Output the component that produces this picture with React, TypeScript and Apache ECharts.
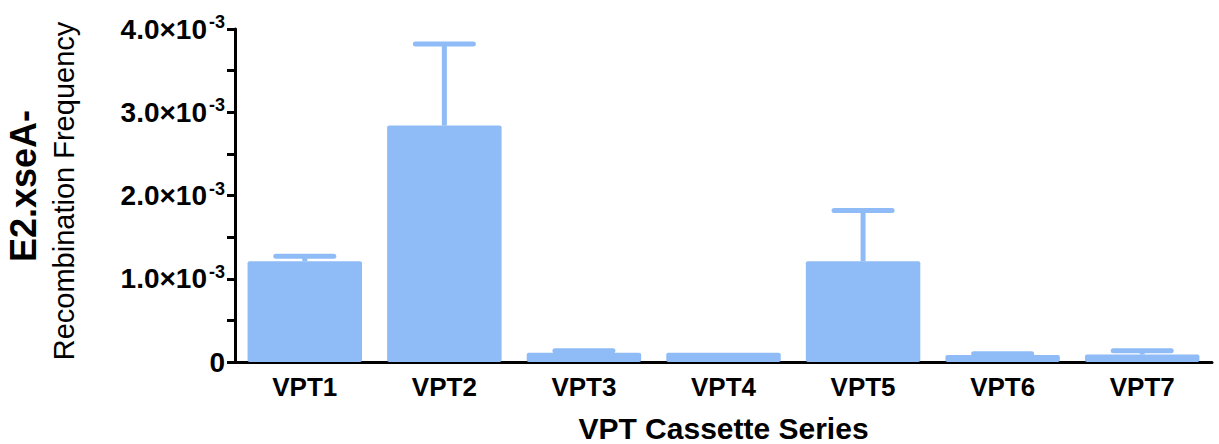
import React, { useEffect, useRef } from "react";
import * as echarts from "echarts";

const categories = ["VPT1", "VPT2", "VPT3", "VPT4", "VPT5", "VPT6", "VPT7"];
const means = [0.00121, 0.00284, 0.00011, 0.00011, 0.00121, 0.000085, 0.00009];
const upperErrors = [0.00127, 0.00382, 0.000135, 0.00011, 0.00182, 0.0001, 0.000135];
const yTicks = [0, 0.001, 0.002, 0.003, 0.004];

const BLUE = "#8fbcf6";
const FONT = "'Liberation Sans', Arial, Helvetica, sans-serif";

export default function App() {
  const ref = useRef<HTMLDivElement>(null);
  useEffect(() => {
    if (!ref.current) return;
    const chart = echarts.init(ref.current, undefined, { renderer: "svg" });
    const errData = categories.map((_, i) => [i, means[i], upperErrors[i]]);
    chart.setOption({
      animation: false,
      backgroundColor: "#ffffff",
      grid: { left: 235, right: 7, top: 29, bottom: 82, outerBoundsMode: "none", containLabel: false },
      xAxis: {
        type: "category",
        data: categories,
        axisLine: { lineStyle: { color: "#000", width: 3 } },
        axisTick: { alignWithLabel: true, length: 8, lineStyle: { color: "#000", width: 3 } },
        axisLabel: { color: "#000", fontFamily: FONT, fontWeight: "bold", fontSize: 26, margin: 12 },
        name: "VPT Cassette Series",
        nameLocation: "middle",
        nameGap: 51,
        nameTextStyle: { color: "#000", fontFamily: FONT, fontWeight: "bold", fontSize: 30, lineHeight: 30 },
      },
      yAxis: {
        type: "value",
        min: yTicks[0],
        max: yTicks[yTicks.length - 1],
        interval: yTicks[1] - yTicks[0],
        splitLine: { show: false },
        axisLine: { show: true, lineStyle: { color: "#000", width: 3 } },
        axisTick: { show: true, length: 8, lineStyle: { color: "#000", width: 3 } },
        minorTick: { show: true, splitNumber: 2, length: 8, lineStyle: { color: "#000", width: 3 } },
        axisLabel: {
          margin: 10,
          formatter: (v: number) =>
            v === 0 ? "{a|0}" : `{a|${(v * 1000).toFixed(1)}×10}{s|-3}`,
          rich: {
            a: { color: "#000", fontFamily: FONT, fontWeight: "bold", fontSize: 28, lineHeight: 32 },
            s: { color: "#000", fontFamily: FONT, fontWeight: "bold", fontSize: 18, lineHeight: 32, verticalAlign: "top", padding: [0, 0, 14, 2] },
          },
        },
      },
      graphic: [
        {
          type: "text",
          x: 23,
          y: 186,
          rotation: Math.PI / 2,
          style: {
            text: "E2.xseA-",
            fill: "#000",
            font: `bold 36px ${FONT}`,
            textAlign: "center",
            textVerticalAlign: "middle",
          },
        },
        {
          type: "text",
          x: 64,
          y: 191,
          rotation: Math.PI / 2,
          style: {
            text: "Recombination Frequency",
            fill: "#000",
            font: `29px ${FONT}`,
            textAlign: "center",
            textVerticalAlign: "middle",
          },
        },
      ],
      series: [
        {
          type: "bar",
          data: means,
          barWidth: "82%",
          itemStyle: { color: BLUE, borderRadius: 2 },
          z: 2,
        },
        {
          type: "custom",
          data: errData,
          z: 1,
          renderItem: (params: any, api: any) => {
            const idx = api.value(0);
            if (api.value(2) <= api.value(1)) return null;
            const lo = api.coord([idx, api.value(1)]);
            const hi = api.coord([idx, api.value(2)]);
            const half = 29;
            return {
              type: "group",
              children: [
                {
                  type: "line",
                  shape: { x1: lo[0], y1: lo[1], x2: hi[0], y2: hi[1] },
                  style: { stroke: BLUE, lineWidth: 5 },
                },
                {
                  type: "line",
                  shape: { x1: hi[0] - half, y1: hi[1], x2: hi[0] + half, y2: hi[1] },
                  style: { stroke: BLUE, lineWidth: 5, lineCap: "round" },
                },
              ],
            };
          },
        },
      ],
    });
    return () => chart.dispose();
  }, []);
  return (
    <div
      ref={ref}
      style={{ position: "absolute", left: 0, top: 0, width: 1219, height: 444 }}
    />
  );
}
